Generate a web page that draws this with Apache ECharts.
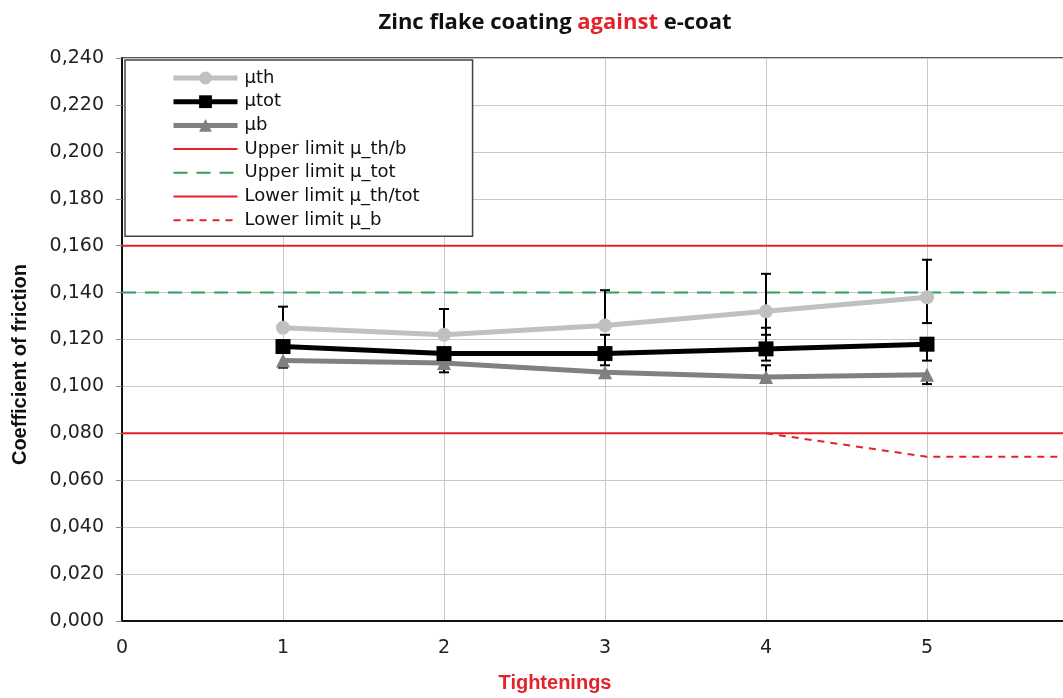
<!DOCTYPE html>
<html>
<head>
<meta charset="utf-8">
<title>Zinc flake coating against e-coat</title>
<script src="https://cdn.jsdelivr.net/npm/echarts@6/dist/echarts.min.js"></script>
<style>
    html, body { margin: 0; padding: 0; background: #fff; }
    #chart { width: 1063px; height: 698px; }
</style>
</head>
<body>
<div id="chart"></div>
<script>
    // tightenings (x positions)
    var tightenings = [1, 2, 3, 4, 5];

    // mean values
    var muTh  = [0.125, 0.122, 0.126, 0.132, 0.138];
    var muTot = [0.117, 0.114, 0.114, 0.116, 0.118];
    var muB   = [0.111, 0.110, 0.106, 0.104, 0.105];

    // error bar ends (null = no bar on that side)
    var muThHigh  = [0.134, 0.133, 0.141, 0.148, 0.154];
    var muThLow   = [null, null, null, 0.122, 0.127];
    var muTotHigh = [null, null, 0.122, 0.125, null];
    var muTotLow  = [null, null, 0.109, 0.111, 0.111];
    var muBHigh   = [null, null, null, 0.109, null];
    var muBLow    = [0.108, 0.106, null, 0.103, 0.101];

    // limit lines
    var upperThB   = [[0, 0.160], [6, 0.160]];
    var upperTot   = [[0, 0.140], [6, 0.140]];
    var lowerThTot = [[0, 0.080], [6, 0.080]];
    var lowerB     = [[4, 0.080], [5, 0.070], [6, 0.070]];

    var yTicks = { min: 0, max: 0.24, interval: 0.02 };
    var xTicks = { min: 0, max: 6, interval: 1 };

    function pairs(xs, ys) {
        return xs.map(function (x, i) { return [x, ys[i]]; });
    }

    // one row per bar: [x, low, high, lowCap, highCap]
    var errRows = [];
    [[muTh, muThLow, muThHigh], [muTot, muTotLow, muTotHigh], [muB, muBLow, muBHigh]].forEach(function (s) {
        tightenings.forEach(function (x, i) {
            var lo = s[1][i], hi = s[2][i];
            if (lo === null && hi === null) return;
            errRows.push([x, lo === null ? s[0][i] : lo, hi === null ? s[0][i] : hi, lo !== null ? 1 : 0, hi !== null ? 1 : 0]);
        });
    });

    function renderErr(params, api) {
        var x = api.value(0);
        var lo = api.coord([x, api.value(1)]);
        var hi = api.coord([x, api.value(2)]);
        var hw = 5;
        var style = { stroke: '#000', lineWidth: 2 };
        var children = [{ type: 'line', shape: { x1: lo[0], y1: lo[1], x2: hi[0], y2: hi[1] }, style: style }];
        if (api.value(3)) children.push({ type: 'line', shape: { x1: lo[0] - hw, y1: lo[1], x2: lo[0] + hw, y2: lo[1] }, style: style });
        if (api.value(4)) children.push({ type: 'line', shape: { x1: hi[0] - hw, y1: hi[1], x2: hi[0] + hw, y2: hi[1] }, style: style });
        return { type: 'group', children: children };
    }

    var chart = echarts.init(document.getElementById('chart'));
    var font = '"DejaVu Sans", sans-serif';
    var boldFont = 'Arial, "Liberation Sans", sans-serif';
    var red = '#e3222b';

    var option = {
        animation: false,
        backgroundColor: '#fff',
        title: {
            text: '{a|Zinc flake coating }{r|against}{a| e-coat}',
            left: 550,
            textAlign: 'center',
            top: 7,
            textStyle: {
                rich: {
                    a: { fontFamily: '"Open Sans", sans-serif', fontWeight: 'bold', fontSize: 22, color: '#111' },
                    r: { fontFamily: '"Open Sans", sans-serif', fontWeight: 'bold', fontSize: 22, color: red }
                }
            }
        },
        legend: {
            orient: 'vertical',
            left: 125,
            top: 60,
            padding: [9, 53, 7, 46],
            itemWidth: 64,
            itemHeight: 16,
            itemGap: 5.7,
            borderColor: '#444',
            borderWidth: 1.5,
            backgroundColor: '#fff',
            textStyle: { fontFamily: font, fontSize: 18, lineHeight: 16, color: '#111', padding: [0, 0, 0, 2] },
            data: [
                { name: 'µth', lineStyle: { width: 5 } },
                { name: 'µtot', lineStyle: { width: 5 } },
                { name: 'µb', lineStyle: { width: 5 } },
                { name: 'Upper limit µ_th/b', itemStyle: { opacity: 0 } },
                { name: 'Upper limit µ_tot', itemStyle: { opacity: 0 } },
                { name: 'Lower limit µ_th/tot', itemStyle: { opacity: 0 } },
                { name: 'Lower limit µ_b', itemStyle: { opacity: 0 } }
            ]
        },
        grid: {
            left: 122,
            top: 58,
            width: 966,
            height: 563,
            outerBoundsMode: 'none',
            containLabel: false,
            show: true,
            borderColor: '#222',
            borderWidth: 1.5
        },
        xAxis: {
            type: 'value',
            min: xTicks.min,
            max: xTicks.max,
            interval: xTicks.interval,
            name: 'Tightenings',
            nameLocation: 'middle',
            nameGap: 52,
            nameTextStyle: { fontFamily: boldFont, fontWeight: 'bold', fontSize: 20, color: red, padding: [0, 100, 0, 0] },
            axisLine: { lineStyle: { color: '#111', width: 2 } },
            axisTick: { show: false },
            axisLabel: { fontFamily: font, fontSize: 19, color: '#222', margin: 18 },
            splitLine: { lineStyle: { color: '#c8c8c8', width: 1 } }
        },
        yAxis: {
            type: 'value',
            min: yTicks.min,
            max: yTicks.max,
            interval: yTicks.interval,
            name: 'Coefficient of friction',
            nameLocation: 'middle',
            nameGap: 92,
            nameTextStyle: { fontFamily: boldFont, fontWeight: 'bold', fontSize: 20, color: '#111', padding: [0, 50, 0, 0] },
            axisLine: { show: true, lineStyle: { color: '#111', width: 2 } },
            axisTick: { show: true, length: 6, lineStyle: { color: '#888' } },
            axisLabel: {
                fontFamily: font, fontSize: 19, color: '#222', margin: 18,
                formatter: function (v) { return v.toFixed(3).replace('.', ','); }
            },
            splitLine: { lineStyle: { color: '#c8c8c8', width: 1 } }
        },
        series: [
            {
                name: 'Upper limit µ_th/b', type: 'line', data: upperThB, symbol: 'none',
                lineStyle: { color: red, width: 2 }, itemStyle: { color: red }, z: 1
            },
            {
                name: 'Upper limit µ_tot', type: 'line', data: upperTot, symbol: 'none',
                lineStyle: { color: '#2ca25a', width: 2, type: [14, 9] }, itemStyle: { color: '#2ca25a' }, z: 1
            },
            {
                name: 'Lower limit µ_th/tot', type: 'line', data: lowerThTot, symbol: 'none',
                lineStyle: { color: red, width: 2 }, itemStyle: { color: red }, z: 1
            },
            {
                name: 'Lower limit µ_b', type: 'line', data: lowerB, symbol: 'none',
                lineStyle: { color: red, width: 2, type: [7, 6] }, itemStyle: { color: red }, z: 1
            },
            {
                name: 'errors', type: 'custom', data: errRows, renderItem: renderErr,
                encode: { x: 0, y: [1, 2] }, z: 3, silent: true
            },
            {
                name: 'µth', type: 'line', data: pairs(tightenings, muTh),
                symbol: 'circle', symbolSize: 14,
                lineStyle: { color: '#c0c0c0', width: 5 }, itemStyle: { color: '#c0c0c0' }, z: 4
            },
            {
                name: 'µtot', type: 'line', data: pairs(tightenings, muTot),
                symbol: 'rect', symbolSize: 15,
                lineStyle: { color: '#000', width: 5 }, itemStyle: { color: '#000' }, z: 5
            },
            {
                name: 'µb', type: 'line', data: pairs(tightenings, muB),
                symbol: 'triangle', symbolSize: 14,
                lineStyle: { color: '#808080', width: 5 }, itemStyle: { color: '#808080' }, z: 4
            }
        ]
    };

    chart.setOption(option);
</script>
</body>
</html>
